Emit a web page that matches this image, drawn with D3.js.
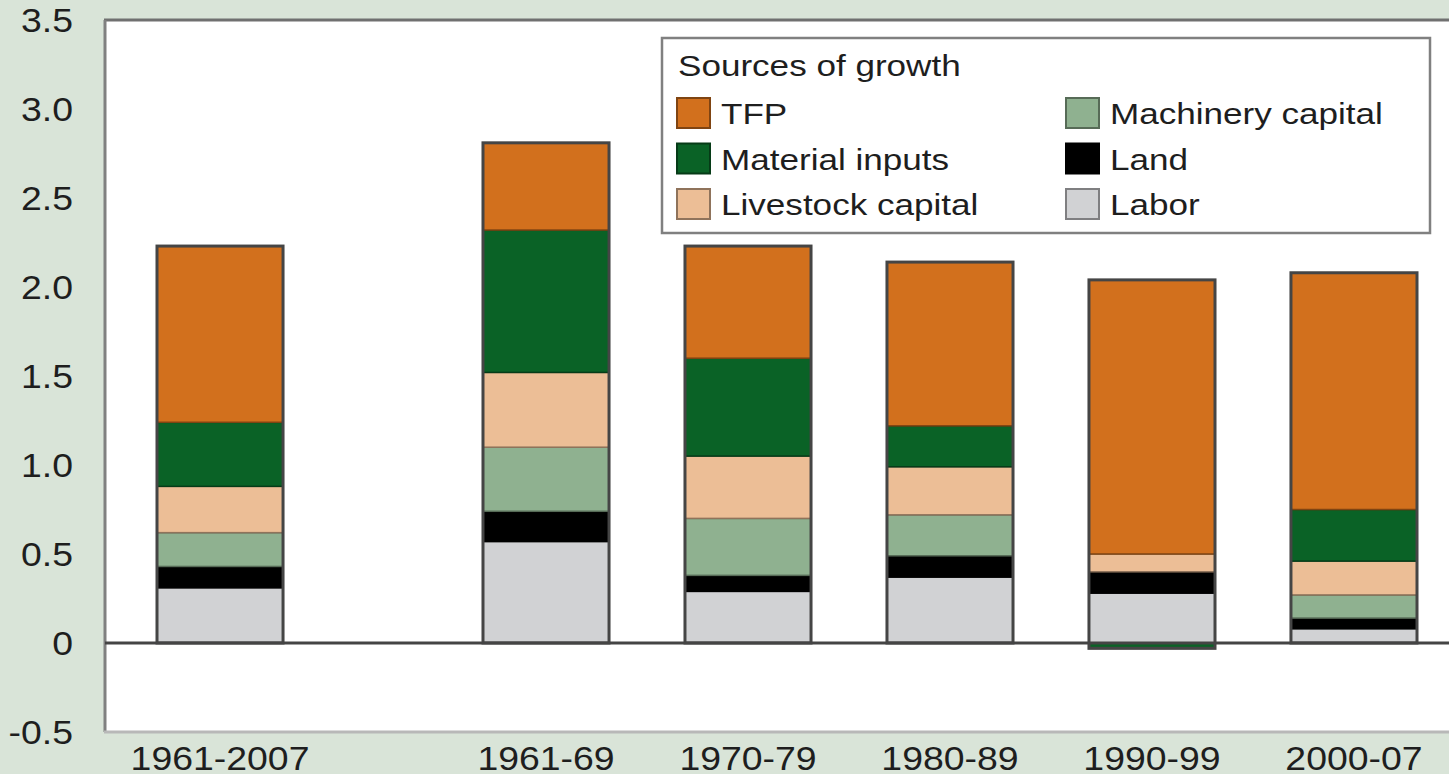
<!DOCTYPE html>
<html>
<head>
<meta charset="utf-8">
<script src="https://cdn.jsdelivr.net/npm/d3@7"></script>
<style>
  body { margin: 0; background: #d9e4d8; }
  svg { display: block; font-family: "Liberation Sans", Arial, sans-serif; }
  text { fill: #1e1e1e; }
</style>
</head>
<body>
<svg id="chart"></svg>
<script>
const categories = ["1961-2007", "1961-69", "1970-79", "1980-89", "1990-99", "2000-07"];
const labor = [0.31, 0.57, 0.29, 0.37, 0.28, 0.08];
const land = [0.12, 0.17, 0.09, 0.12, 0.12, 0.06];
const machinery = [0.19, 0.36, 0.32, 0.23, 0.00, 0.13];
const livestock = [0.26, 0.42, 0.35, 0.27, 0.10, 0.19];
const material = [0.36, 0.80, 0.55, 0.23, -0.03, 0.29];
const tfp = [0.99, 0.49, 0.63, 0.92, 1.54, 1.33];

const yTicks = [-0.5, 0, 0.5, 1.0, 1.5, 2.0, 2.5, 3.0, 3.5];
const yTickLabels = ["-0.5", "0", "0.5", "1.0", "1.5", "2.0", "2.5", "3.0", "3.5"];

// stacking order, bottom to top
const seriesKeys = ["Labor", "Land", "Machinery capital", "Livestock capital", "Material inputs", "TFP"];
const seriesValues = [labor, land, machinery, livestock, material, tfp];
const colors = {
    "TFP": "#d2701d",
    "Material inputs": "#0a6226",
    "Livestock capital": "#ecbe96",
    "Machinery capital": "#8fb190",
    "Land": "#000000",
    "Labor": "#d1d2d4"
};
// legend layout: two columns
const legendCols = [["TFP", "Material inputs", "Livestock capital"], ["Machinery capital", "Land", "Labor"]];

const width = 1449, height = 774;
const svg = d3.select("#chart").attr("width", width).attr("height", height);

const plot = { left: 105, top: 20, bottom: 732 };
const groupGap = 124; // extra space after the first (whole period) bar

const y = d3.scaleLinear().domain([-0.5, 3.5]).range([plot.bottom, plot.top]);
const x = d3.scaleBand().domain(categories).range([157, 1293]).paddingInner(0.376).paddingOuter(0);
const xPos = function (c) { return x(c) + (categories.indexOf(c) > 0 ? groupGap : 0); };

const rows = categories.map(function (c, i) {
    const row = { category: c };
    seriesKeys.forEach(function (k, j) { row[k] = seriesValues[j][i]; });
    return row;
});
const stacked = d3.stack().keys(seriesKeys).offset(d3.stackOffsetDiverging)(rows);

function stretchText(g, px, py, str, size, sx, anchor) {
    return g.append("text")
        .attr("transform", "translate(" + px + "," + py + ") scale(" + sx + ",1)")
        .attr("text-anchor", anchor)
        .style("font-size", size + "px")
        .text(str);
}

// plot area
svg.append("rect")
    .attr("x", plot.left).attr("y", plot.top)
    .attr("width", width - plot.left + 10).attr("height", plot.bottom - plot.top)
    .attr("fill", "#fff");
svg.append("line").attr("x1", plot.left - 1).attr("x2", width).attr("y1", plot.top).attr("y2", plot.top)
    .attr("stroke", "#707070").attr("stroke-width", 3);
svg.append("line").attr("x1", plot.left).attr("x2", plot.left).attr("y1", plot.top).attr("y2", plot.bottom)
    .attr("stroke", "#808080").attr("stroke-width", 3);
svg.append("line").attr("x1", plot.left - 1).attr("x2", width).attr("y1", plot.bottom).attr("y2", plot.bottom)
    .attr("stroke", "#b8b8b8").attr("stroke-width", 3);

// y axis labels
const yAxis = svg.append("g")
    .attr("transform", "translate(73,0)")
    .call(d3.axisLeft(y).tickValues(yTicks).tickSize(0).tickPadding(0)
        .tickFormat(function (d, i) { return yTickLabels[i]; }));
yAxis.select(".domain").remove();
yAxis.selectAll("text")
    .attr("transform", "scale(1.1,1)")
    .attr("dy", "0.34em")
    .style("font-size", "34px")
    .style("font-family", "'Liberation Sans', Arial, sans-serif")
    .attr("fill", "#1e1e1e");

// bars
const bars = svg.append("g");
stacked.forEach(function (layer) {
    const fill = colors[layer.key];
    bars.append("g").selectAll("rect")
        .data(layer.filter(function (d) { return d[1] !== d[0]; }))
        .enter().append("rect")
        .attr("x", function (d) { return xPos(d.data.category); })
        .attr("width", x.bandwidth())
        .attr("y", function (d) { return y(Math.max(d[0], d[1])); })
        .attr("height", function (d) { return Math.abs(y(d[0]) - y(d[1])); })
        .attr("fill", fill)
        .attr("stroke", d3.color(fill).darker(1.4))
        .attr("stroke-width", 1.5);
});

// bar outlines
bars.append("g").selectAll("rect")
    .data(rows)
    .enter().append("rect")
    .attr("x", function (d) { return xPos(d.category); })
    .attr("width", x.bandwidth())
    .attr("y", function (d, i) { return y(d3.max(stacked, function (s) { return s[i][1]; })); })
    .attr("height", function (d, i) {
        const top = d3.max(stacked, function (s) { return s[i][1]; });
        const bot = d3.min(stacked, function (s) { return s[i][0]; });
        return y(bot) - y(top);
    })
    .attr("fill", "none")
    .attr("stroke", "#454545")
    .attr("stroke-width", 3);

// zero line
svg.append("line")
    .attr("x1", plot.left).attr("x2", width)
    .attr("y1", y(0)).attr("y2", y(0))
    .attr("stroke", "#444").attr("stroke-width", 3);

// x labels
const xLabels = svg.append("g");
categories.forEach(function (c) {
    stretchText(xLabels, xPos(c) + x.bandwidth() / 2, 770, c, 34, 1.1, "middle");
});

// legend
const legend = svg.append("g");
legend.append("rect")
    .attr("x", 662).attr("y", 38).attr("width", 768).attr("height", 195)
    .attr("fill", "#fff").attr("stroke", "#808080").attr("stroke-width", 2.5);
stretchText(legend, 678, 76, "Sources of growth", 30, 1.17, "start");
legendCols.forEach(function (col, ci) {
    const x0 = ci === 0 ? 677 : 1066;
    col.forEach(function (key, ri) {
        const cy = 113 + ri * 45.5;
        legend.append("rect")
            .attr("x", x0).attr("y", cy - 15).attr("width", 33).attr("height", 30)
            .attr("fill", colors[key])
            .attr("stroke", key === "Land" ? "#000" : d3.color(colors[key]).darker(1.4))
            .attr("stroke-width", 2);
        stretchText(legend, x0 + 44, cy + 11, key, 30, 1.17, "start");
    });
});
</script>
</body>
</html>
